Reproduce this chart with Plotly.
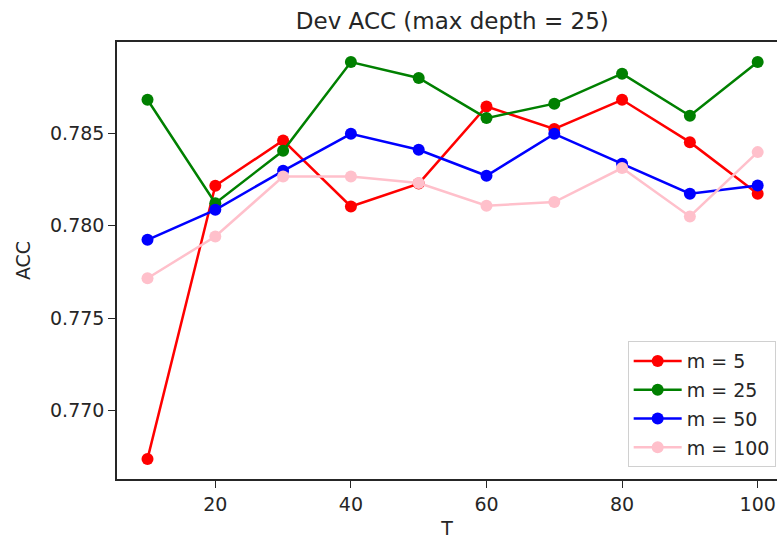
import plotly.graph_objects as go

# Number of trees T
T = [10, 20, 30, 40, 50, 60, 70, 80, 90, 100]

# Dev accuracy for each m
acc_m5 = [0.76739, 0.78216, 0.78461, 0.78104, 0.78228, 0.78645, 0.78523, 0.78681, 0.78452, 0.78173]
acc_m25 = [0.78681, 0.78122, 0.78405, 0.78885, 0.78799, 0.78582, 0.78660, 0.78822, 0.78595, 0.78885]
acc_m50 = [0.77924, 0.78086, 0.78297, 0.78497, 0.78411, 0.78270, 0.78497, 0.78335, 0.78173, 0.78218]
acc_m100 = [0.77716, 0.77942, 0.78266, 0.78266, 0.78231, 0.78108, 0.78128, 0.78312, 0.78050, 0.78398]

series = [
    ("m = 5", acc_m5, "red"),
    ("m = 25", acc_m25, "green"),
    ("m = 50", acc_m50, "blue"),
    ("m = 100", acc_m100, "pink"),
]

fig = go.Figure()
for i, (name, vals, color) in enumerate(series):
    fig.add_trace(go.Scatter(
        x=T, y=vals, name=name, mode="lines+markers",
        line=dict(color=color, width=2.5),
        marker=dict(color=color, size=12),
        legendgroup=f"g{i}",
    ))

font_color = "#262626"
base = 19
fig.update_layout(
    width=778, height=539,
    margin=dict(l=117, r=1, t=42, b=60),
    plot_bgcolor="white", paper_bgcolor="white",
    font=dict(family="DejaVu Sans", size=base, color=font_color),
    title=dict(text="Dev ACC (max depth = 25)", x=0.508, xref="paper", xanchor="center",
               y=1 - 21 / 539, yanchor="middle", font=dict(size=23, color=font_color)),
    showlegend=True,
    legend=dict(x=0.998, y=0.027, xanchor="right", yanchor="bottom",
                bgcolor="white", bordercolor="#d0d0d0", borderwidth=1,
                font=dict(size=base, color=font_color), itemwidth=48,
                traceorder="grouped", tracegroupgap=1),
)
fig.update_xaxes(
    range=[5.5, 102.85], tickvals=[20, 40, 60, 80, 100],
    showgrid=False, zeroline=False, showline=True, linecolor="#262626", linewidth=1.5,
    mirror=True, ticks="outside", ticklen=7, tickcolor="#262626",
    title=dict(text="T", standoff=10, font=dict(size=base)), tickfont=dict(size=base),
)
fig.update_yaxes(
    range=[0.766304, 0.789935], tickvals=[0.770, 0.775, 0.780, 0.785], tickformat=".3f",
    showgrid=False, zeroline=False, showline=True, linecolor="#262626", linewidth=1.5,
    ticks="outside", ticklen=7, tickcolor="#262626",
    title=dict(text="ACC", standoff=14, font=dict(size=base)), tickfont=dict(size=base),
)

fig.write_html("out.html")
